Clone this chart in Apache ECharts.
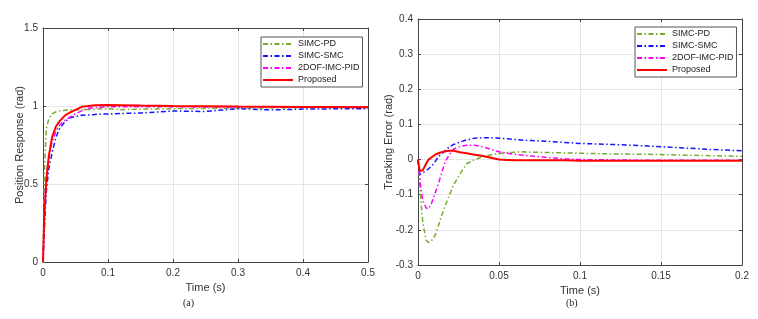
<!DOCTYPE html>
<html>
<head>
<meta charset="utf-8">
<script src="https://cdn.jsdelivr.net/npm/echarts@6/dist/echarts.min.js"></script>
<style>
html,body{margin:0;padding:0;background:#fff;}
#chart{width:758px;height:319px;}
</style>
</head>
<body>
<div id="chart"></div>
<script>
// ---------- data ----------
const seriesNames = ['SIMC-PD', 'SIMC-SMC', '2DOF-IMC-PID', 'Proposed'];

// (a) Position response
const timeA = [0, 0.002, 0.005, 0.009, 0.014, 0.02, 0.026, 0.034, 0.042, 0.05, 0.06, 0.07, 0.08, 0.1, 0.12, 0.15, 0.2, 0.25, 0.3, 0.35, 0.4, 0.45, 0.5];
const pdA       = [0, 0.55, 0.85, 0.92, 0.95, 0.963, 0.97, 0.973, 0.975, 0.975, 0.976, 0.978, 0.98, 0.982, 0.976, 0.98, 0.983, 0.985, 0.987, 0.988, 0.99, 0.99, 0.99];
const smcA      = [0, 0.2, 0.45, 0.6, 0.70, 0.8, 0.86, 0.9, 0.925, 0.933, 0.94, 0.943, 0.946, 0.949, 0.952, 0.955, 0.968, 0.965, 0.983, 0.975, 0.98, 0.982, 0.983];
const imcA      = [0, 0.3, 0.55, 0.67, 0.77, 0.84, 0.88, 0.91, 0.93, 0.95, 0.97, 0.985, 0.99, 0.995, 0.995, 0.995, 0.995, 0.994, 0.994, 0.994, 0.993, 0.993, 0.993];
const proposedA = [0, 0.3, 0.52, 0.68, 0.8, 0.87, 0.905, 0.94, 0.96, 0.975, 0.995, 1.0, 1.005, 1.006, 1.005, 1.003, 1.0, 0.998, 0.996, 0.995, 0.994, 0.993, 0.992];

// (b) Tracking error
const timeB = [0, 0.001, 0.002, 0.003, 0.005, 0.0065, 0.008, 0.0095, 0.011, 0.0125, 0.0145, 0.0165, 0.019, 0.022, 0.026, 0.03, 0.035, 0.04, 0.045, 0.05, 0.055, 0.06, 0.065, 0.07, 0.08, 0.09, 0.1, 0.12, 0.14, 0.16, 0.18, 0.2];
const pdB       = [0, -0.06, -0.13, -0.18, -0.23, -0.236, -0.232, -0.225, -0.21, -0.19, -0.16, -0.135, -0.105, -0.072, -0.04, -0.012, 0.0, 0.008, 0.013, 0.017, 0.02, 0.021, 0.022, 0.021, 0.02, 0.019, 0.018, 0.016, 0.015, 0.013, 0.011, 0.009];
const smcB      = [0, -0.042, -0.04, -0.037, -0.032, -0.026, -0.02, -0.013, -0.003, 0.008, 0.016, 0.024, 0.035, 0.043, 0.05, 0.056, 0.061, 0.062, 0.062, 0.061, 0.059, 0.057, 0.055, 0.054, 0.052, 0.049, 0.046, 0.043, 0.039, 0.034, 0.029, 0.025];
const imcB      = [0, -0.05, -0.09, -0.115, -0.138, -0.14, -0.128, -0.11, -0.09, -0.07, -0.04, -0.01, 0.012, 0.03, 0.037, 0.041, 0.041, 0.036, 0.029, 0.022, 0.018, 0.015, 0.012, 0.01, 0.006, 0.002, 0.0, -0.001, -0.002, -0.002, -0.002, -0.002];
const proposedB = [0, -0.033, -0.037, -0.03, -0.012, 0.0, 0.005, 0.01, 0.015, 0.018, 0.021, 0.023, 0.025, 0.025, 0.021, 0.018, 0.014, 0.01, 0.005, 0.0, -0.001, -0.002, -0.002, -0.002, -0.002, -0.002, -0.003, -0.003, -0.003, -0.003, -0.003, -0.003];

// ---------- styling ----------
const colors = ['#77AC30', '#1414FF', '#FF00FF', '#FF0000'];
const dashDot = [5, 2.5, 1.5, 2.5];
const styles = [
  {color: colors[0], width: 1.5, type: dashDot},
  {color: colors[1], width: 1.5, type: dashDot},
  {color: colors[2], width: 1.5, type: dashDot},
  {color: colors[3], width: 2, type: 'solid'}
];
const FONT = 'Liberation Sans, Arial, sans-serif';
const axisCol = '#444';

function pairs(t, v) { return t.map((x, i) => [x, v[i]]); }

function mainX(grid, max, interval) {
  return {
    gridIndex: grid, type: 'value', min: 0, max: max, interval: interval,
    axisLine: {show: true, onZero: false, lineStyle: {color: axisCol, width: 1}},
    axisTick: {show: true, inside: true, length: 3, lineStyle: {color: axisCol}},
    axisLabel: {fontFamily: FONT, fontSize: 10, color: '#333', margin: 6},
    splitLine: {show: true, lineStyle: {color: '#e6e6e6', width: 1}},
    name: 'Time (s)', nameLocation: 'middle', nameGap: 20, nameMoveOverlap: false,
    nameTextStyle: {fontFamily: FONT, fontSize: 11, color: '#333'}
  };
}
function topX(grid, max, interval) {
  return {
    gridIndex: grid, type: 'value', position: 'top', min: 0, max: max, interval: interval,
    axisLine: {show: true, onZero: false, lineStyle: {color: axisCol, width: 1}},
    axisTick: {show: true, inside: true, length: 3, lineStyle: {color: axisCol}},
    axisLabel: {show: false}, splitLine: {show: false}
  };
}
function mainY(grid, min, max, interval, name, gap) {
  return {
    gridIndex: grid, type: 'value', min: min, max: max, interval: interval,
    axisLine: {show: true, onZero: false, lineStyle: {color: axisCol, width: 1}},
    axisTick: {show: true, inside: true, length: 3, lineStyle: {color: axisCol}},
    axisLabel: {fontFamily: FONT, fontSize: 10, color: '#333', margin: 5},
    splitLine: {show: true, lineStyle: {color: '#e6e6e6', width: 1}},
    name: name, nameLocation: 'middle', nameGap: gap, nameMoveOverlap: false,
    nameTextStyle: {fontFamily: FONT, fontSize: 11, color: '#333'}
  };
}
function rightY(grid, min, max, interval) {
  return {
    gridIndex: grid, type: 'value', position: 'right', min: min, max: max, interval: interval,
    axisLine: {show: true, onZero: false, lineStyle: {color: axisCol, width: 1}},
    axisTick: {show: true, inside: true, length: 3, lineStyle: {color: axisCol}},
    axisLabel: {show: false}, splitLine: {show: false}
  };
}
function legend(left, top) {
  return {
    orient: 'vertical', left: left, top: top,
    data: seriesNames,
    itemWidth: 30, itemHeight: 10, itemGap: 0,
    padding: [1, 3, 1, 1],
    borderColor: '#555', borderWidth: 1, backgroundColor: '#fff',
    itemStyle: {opacity: 0},
    textStyle: {fontFamily: FONT, fontSize: 9, color: '#222', lineHeight: 12},
    selectedMode: false
  };
}

const valsA = [pdA, smcA, imcA, proposedA];
const valsB = [pdB, smcB, imcB, proposedB];
const series = [];
seriesNames.forEach((n, i) => {
  series.push({name: n, type: 'line', xAxisIndex: 0, yAxisIndex: 0, data: pairs(timeA, valsA[i]),
    symbol: 'none', lineStyle: styles[i], itemStyle: {color: colors[i]}, z: 2 + i});
});
seriesNames.forEach((n, i) => {
  series.push({name: n, type: 'line', xAxisIndex: 2, yAxisIndex: 2, data: pairs(timeB, valsB[i]),
    symbol: 'none', lineStyle: styles[i], itemStyle: {color: colors[i]}, z: 2 + i});
});

const option = {
  animation: false,
  backgroundColor: '#fff',
  grid: [
    {left: 43, top: 28, width: 325, height: 234},
    {left: 418, top: 19, width: 324, height: 246}
  ],
  xAxis: [mainX(0, 0.5, 0.1), topX(0, 0.5, 0.1), mainX(1, 0.2, 0.05), topX(1, 0.2, 0.05)],
  yAxis: [mainY(0, 0, 1.5, 0.5, 'Position Response (rad)', 18), rightY(0, 0, 1.5, 0.5),
          mainY(1, -0.3, 0.4, 0.1, 'Tracking Error (rad)', 24), rightY(1, -0.3, 0.4, 0.1)],
  legend: [legend(261, 37), legend(635, 27)],
  title: [
    {text: '(a)', left: 183, top: 298, textStyle: {fontFamily: 'Liberation Serif, serif', fontSize: 10, fontWeight: 'normal', color: '#222'}, padding: 0},
    {text: '(b)', left: 566, top: 298, textStyle: {fontFamily: 'Liberation Serif, serif', fontSize: 10, fontWeight: 'normal', color: '#222'}, padding: 0}
  ],
  series: series
};

const chart = echarts.init(document.getElementById('chart'), null, {renderer: 'canvas'});
chart.setOption(option);
</script>
</body>
</html>
